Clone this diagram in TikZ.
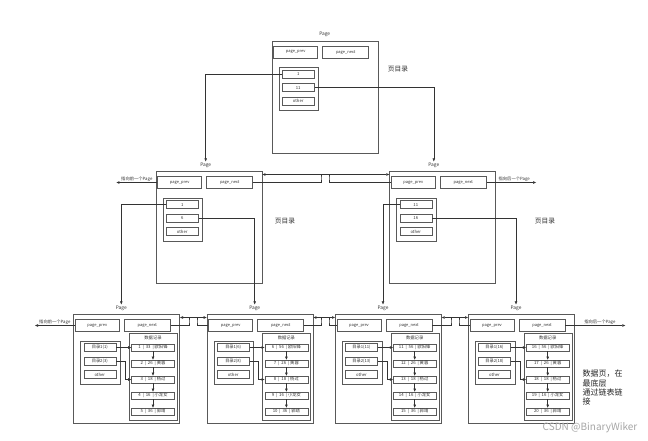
\documentclass[tikz,border=0pt]{standalone}
\usepackage{fontspec}
\setmainfont{Noto Sans CJK SC}
\usetikzlibrary{arrows.meta}

\tikzset{
  pagebox/.style={draw=black!65, line width=0.7pt, inner sep=0pt, anchor=north west, minimum width=106pt},
  fieldbox/.style={draw=black!65, line width=0.6pt, inner sep=0pt, minimum height=12pt, font=\fontsize{4}{5}\selectfont, text=black!80},
  dirbox/.style={draw=black!65, line width=0.6pt, inner sep=0pt, anchor=north west, minimum width=39.5pt, minimum height=43pt},
  slotbox/.style={draw=black!65, line width=0.6pt, inner sep=0pt, minimum width=32pt, minimum height=8pt, font=\fontsize{4.2}{5}\selectfont, text=black!80},
  databox/.style={draw=black!65, line width=0.6pt, inner sep=0pt, anchor=north west, minimum width=48pt, minimum height=87pt},
  recbox/.style={draw=black!65, line width=0.6pt, inner sep=0pt, minimum width=43pt, minimum height=7pt, font=\fontsize{4.3}{5}\selectfont, text=black!80},
  pagetag/.style={font=\fontsize{4.8}{5}\selectfont, text=black!80, inner sep=1pt},
  ptrtag/.style={font=\fontsize{4.3}{5}\selectfont, text=black!80, inner sep=0.8pt},
  dirnote/.style={font=\fontsize{6.7}{8}\selectfont, text=black!80},
  linkarrow/.style={draw=black!80, line width=0.55pt, -{Triangle[length=3pt,width=2.4pt]}},
}

\begin{document}
\begin{tikzpicture}[x=1pt, y=-1pt]
  \useasboundingbox (0,0) rectangle (648,440);
  \fill[white] (0,0) rectangle (648,440);

  % Paginas de directorio (raiz y nivel medio)
  \foreach \p/\L/\T/\ea/\eb/\tx in {root/271.7/40.7/1/11/53, midl/155.7/171/1/6/50, midr/389.3/171/11/16/44.5} {
    \begin{scope}[shift={(\L,\T)}]
      \node[pagebox, minimum height=112pt] (\p) at (0,0) {};
      \node[pagetag] (\p-tag) at (\tx,-6) {Page};
      \node[fieldbox, minimum width=44pt] (\p-prev) at (24,11.5) {page\_prev};
      \node[fieldbox, minimum width=46pt] (\p-next) at (74,11.5) {page\_next};
      \node[dirbox] (\p-dir) at (7,26.5) {};
      \node[slotbox] (\p-e1) at (26.5,33.5) {\ea};
      \node[slotbox] (\p-e2) at (26.5,47) {\eb};
      \node[slotbox] (\p-e3) at (26.5,60.5) {other};
    \end{scope}
  }

  % Paginas de datos (nivel inferior)
  \foreach \i/\L/\n/\fa in {1/73.3/1/33, 2/206.7/6/56, 3/335/11/56, 4/468/16/56} {
    \begin{scope}[shift={(\L,314)}]
      \node[pagebox, minimum height=109pt] (leaf\i) at (0,0) {};
      \node[pagetag] (leaf\i-tag) at (48,-6) {Page};
      \node[fieldbox, minimum width=44pt] (leaf\i-prev) at (24,11.5) {page\_prev};
      \node[fieldbox, minimum width=46pt] (leaf\i-next) at (74,11.5) {page\_next};
      \node[dirbox] (leaf\i-dir) at (7,26.5) {};
      \pgfmathtruncatemacro\m{\n+2}
      \node[slotbox] (leaf\i-s1) at (26.5,33.5) {目录1(\n)};
      \node[slotbox] (leaf\i-s2) at (26.5,47) {目录2(\m)};
      \node[slotbox] (leaf\i-s3) at (26.5,60.5) {other};
      \node[databox] (leaf\i-data) at (55.7,19) {};
      \node[ptrtag] (leaf\i-dtag) at (79.7,24) {数据记录};
      \foreach \age/\name [count=\k] in {\fa/欧阳锋, 26/黄蓉, 18/杨过, 16/小龙女, 36/郭靖} {
        \pgfmathtruncatemacro\id{\n+\k-1}
        \node[recbox] (leaf\i-r\k) at (79.7,{33.5+16*(\k-1)}) {\id~~|~~\age~~|~\name};
      }
    \end{scope}
    % Enlaces dentro de la pagina
    \draw[linkarrow] (leaf\i-s1.east) -- (leaf\i-r1.west);
    \draw[linkarrow] (leaf\i-s2.east) -- ++(9.2,0) |- (leaf\i-r3.west);
    \foreach \k [evaluate=\k as \kk using int(\k+1)] in {1,...,4}
      \draw[linkarrow] (leaf\i-r\k.south) -- (leaf\i-r\kk.north);
  }

  % Directorio raiz hacia el nivel medio
  \draw[linkarrow] (root-e1.west) -| (midl-tag.north);
  \draw[linkarrow] (root-e2.east) -| (midr-tag.north);

  % Nivel medio hacia las paginas de datos
  \draw[linkarrow] (midl-e1.west) -| (leaf1-tag.north);
  \draw[linkarrow] (midl-e2.east) -| (leaf2-tag.north);
  \draw[linkarrow] (midr-e1.west) -| (leaf3-tag.north);
  \draw[linkarrow] (midr-e2.east) -| (leaf4-tag.north);

  % Lista doble del nivel medio
  \draw[linkarrow] (midl-next.east) -| (321,178) |- ([yshift=-3.5pt]midr.north west);
  \draw[linkarrow] (midr-prev.west) -| (329,178) |- ([yshift=-3.5pt]midl.north east);
  \draw[linkarrow] (midl-prev.west) -- ++(-41,0) coordinate (midl-out);
  \node[ptrtag, anchor=south east] (midl-ptr) at ([xshift=-4pt]midl-prev.west) {指向前一个Page};
  \draw[linkarrow] (midr-next.east) -- ++(49.5,0) coordinate (midr-out);
  \node[ptrtag, anchor=south west] (midr-ptr) at ([xshift=11pt]midr-next.east) {指向后一个Page};

  % Lista doble de las paginas de datos
  \foreach \i/\j/\xm in {1/2/193, 2/3/325, 3/4/455} {
    \draw[linkarrow] (leaf\i-next.east) -| ({\xm-4},321.5) |- ([yshift=-3.5pt]leaf\j.north west);
    \draw[linkarrow] (leaf\j-prev.west) -| ({\xm+4},321.5) |- ([yshift=-3.5pt]leaf\i.north east);
  }
  \draw[linkarrow] (leaf1-prev.west) -- ++(-40,0) coordinate (leaf1-out);
  \node[ptrtag, anchor=south east] (leaf1-ptr) at ([xshift=-3.6pt]leaf1-prev.west) {指向前一个Page};
  \draw[linkarrow] (leaf4-next.east) -- ++(60,0) coordinate (leaf4-out);
  \node[ptrtag, anchor=south west] (leaf4-ptr) at ([xshift=18pt]leaf4-next.east) {指向后一个Page};

  % Textos
  \node[dirnote] (root-note) at (398,69) {页目录};
  \node[dirnote] (midl-note) at (285,221) {页目录};
  \node[dirnote] (midr-note) at (545,221) {页目录};
  \node[font=\fontsize{8}{9.2}\selectfont, text=black!85, anchor=north west, align=left, inner sep=0pt] (leaf-note) at (582.5,370) {数据页，在\\最底层\\通过链表链\\接};
  \node[font=\fontsize{10}{12}\selectfont, text=black!35] (mark) at (590,428) {CSDN @BinaryWiker};
\end{tikzpicture}
\end{document}
